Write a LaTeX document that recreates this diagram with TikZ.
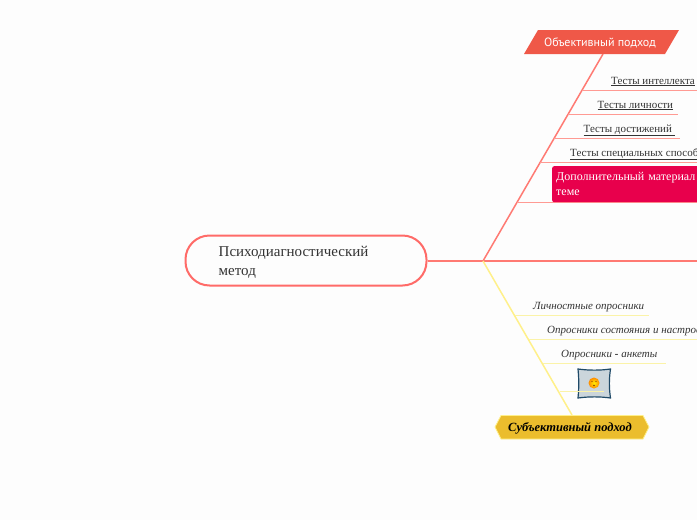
\documentclass[tikz,border=0pt]{standalone}
\usepackage{fontspec}
\setmainfont{Liberation Serif}
\newfontfamily\titlefont{PT Sans}
\usetikzlibrary{positioning}

\definecolor{pagecol}{HTML}{FDFDFD}
\definecolor{trunkred}{HTML}{FF7A73}
\definecolor{twigred}{HTML}{FF9A93}
\definecolor{rootred}{HTML}{FF6B68}
\definecolor{trunkyellow}{HTML}{FFF08A}
\definecolor{twigyellow}{HTML}{FBF3A8}
\definecolor{objcol}{HTML}{EF5848}
\definecolor{subjcol}{HTML}{EBBD2D}
\definecolor{pinkcol}{HTML}{E8004C}
\definecolor{framecol}{HTML}{1F4A68}
\definecolor{photocol}{HTML}{CBD5DB}
\definecolor{inkcol}{HTML}{333333}

\begin{document}
\begin{tikzpicture}[x=1pt,y=-1pt]

% Styles for lines and labels
\tikzset{
    redline/.style={draw=twigred, line width=1pt},
    yellowline/.style={draw=twigyellow, line width=1pt},
    testlabel/.style={anchor=base west, inner sep=0pt, text=inkcol, font=\fontsize{11}{13}\selectfont},
    quizlabel/.style={anchor=base west, inner sep=0pt, text=inkcol, font=\fontsize{11}{13}\selectfont\itshape}
}

\useasboundingbox[fill=pagecol] (0,0) rectangle (697,520);

% Central topic
\coordinate (hub) at (483,261);
\node[draw=rootred, line width=2pt, fill=pagecol, rounded corners=24pt, minimum width=241pt, minimum height=50pt, inner sep=0pt] (root) at (306,260.5) {};
\node[anchor=north west, inner sep=0pt, align=left, text=inkcol, font=\fontsize{15}{19}\selectfont] (rootlabel) at (218.5,246) {Психодиагностический\\метод};

% Main branches
\coordinate (edge) at (697,261);
\coordinate (objfoot) at (603,54);
\coordinate (subjfoot) at (572,415);
\draw[trunkred, line width=1.5pt] (root.east |- hub) -- (hub) -- (edge);
\draw[trunkred, line width=1.5pt] (hub) -- (objfoot);
\draw[trunkyellow, line width=1.5pt] (hub) -- (subjfoot);

% Red twigs
\coordinate (twiga) at (582,90.5);   \coordinate (twigaend) at (697,90.5);
\coordinate (twigb) at (568,114.5);  \coordinate (twigbend) at (678,114.5);
\coordinate (twigc) at (554,138.5);  \coordinate (twigcend) at (680,138.5);
\coordinate (twigd) at (540,162.5);  \coordinate (twigdend) at (697,162.5);
\coordinate (twige) at (517,202.5);  \coordinate (twigeend) at (697,202.5);
\draw[redline] (twiga) -- (twigaend);
\draw[redline] (twigb) -- (twigbend);
\draw[redline] (twigc) -- (twigcend);
\draw[redline] (twigd) -- (twigdend);
\draw[redline] (twige) -- (twigeend);

\node[testlabel] (testa) at (611,84) {\underline{Тесты интеллекта}};
\node[testlabel] (testb) at (597.5,108) {\underline{Тесты личности}};
\node[testlabel] (testc) at (583.5,132) {\underline{Тесты достижений\ }};
\node[testlabel] (testd) at (570,156) {\underline{Тесты специальных способностей}};

% Pink box runs off the page
\node[anchor=north west, fill=pinkcol, rounded corners=2pt, minimum width=170pt, minimum height=36pt, text width=162pt, inner xsep=4pt, inner ysep=5pt, align=left, text=white, font=\fontsize{12}{15}\selectfont] (extra) at (552,166) {Дополнительный материал по\\теме};

% Red title
\fill[objcol] (524,54) -- (538,30) -- (679,30) -- (665,54) -- cycle;
\node[text=white, inner sep=0pt, font=\titlefont\fontsize{12}{14}\selectfont] (objtitle) at (600,42.5) {Объективный подход};

% Yellow twigs
\coordinate (twigf) at (515,315.5);  \coordinate (twigfend) at (649,315.5);
\coordinate (twigg) at (529,339.5);  \coordinate (twiggend) at (697,339.5);
\coordinate (twigh) at (543,363.5);  \coordinate (twighend) at (666,363.5);
\coordinate (twigi) at (560,391.5);  \coordinate (twigiend) at (604,391.5);
\draw[yellowline] (twigf) -- (twigfend);
\draw[yellowline] (twigg) -- (twiggend);
\draw[yellowline] (twigh) -- (twighend);

\node[quizlabel] (quiza) at (533,309) {Личностные опросники};
\node[quizlabel] (quizb) at (547,333) {Опросники состояния и настроения};
\node[quizlabel] (quizc) at (561,357) {Опросники \textbf{-} анкеты};

% Little picture with a face
\draw[framecol, fill=photocol, line width=1.2pt] (578,369) .. controls (589,370.5) and (600,370.5) .. (610.5,369)
    .. controls (609,379) and (609,388) .. (610.5,398) .. controls (600,396.5) and (589,396.5) .. (578,398)
    .. controls (579,388) and (579,379) .. (578,369) -- cycle;
\shade[inner color=yellow!85!orange, outer color=orange!90!yellow] (594,383) circle (5.5);
\fill[black!50!orange] (592,381.5) circle (0.7);
\fill[black!50!orange] (596,381.5) circle (0.7);
\fill[black!50!orange] (594,385.5) circle (0.8);
\draw[yellowline] (twigi) -- (twigiend);

% Yellow title
\draw[fill=subjcol, draw=trunkyellow, line width=0.8pt] (495,427) -- (501,415.5) -- (643,415.5) -- (649,427) -- (643,439) -- (501,439) -- cycle;
\node[inner sep=0pt, text=black, font=\fontsize{12.5}{15}\selectfont\bfseries\itshape] (subjtitle) at (570,428.5) {Субъективный подход};

\end{tikzpicture}
\end{document}
